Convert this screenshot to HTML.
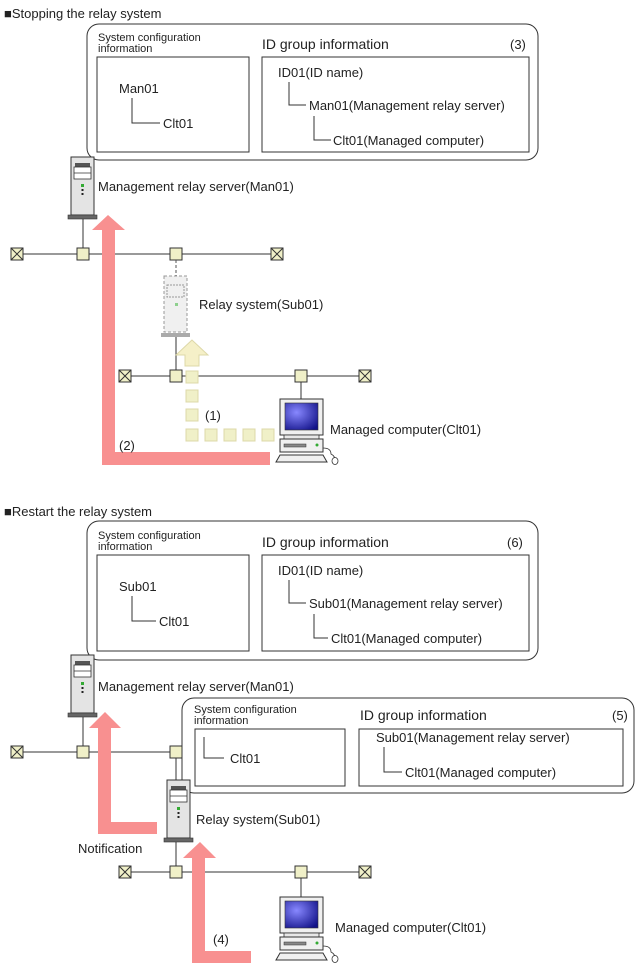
<!DOCTYPE html>
<html><head><meta charset="utf-8"><style>
html,body{margin:0;padding:0;background:#fff}
svg{display:block}
text{font-family:"Liberation Sans",sans-serif;fill:#222}
</style></head><body>
<svg width="636" height="968" viewBox="0 0 636 968" xmlns="http://www.w3.org/2000/svg">
<defs>
<g id="srv">
<rect x="0" y="0" width="23" height="58" fill="#e4e4e4" stroke="#333" stroke-width="1"/>
<rect x="4" y="6" width="15" height="4" fill="#555"/>
<rect x="3" y="10" width="17" height="12" fill="#fff" stroke="#333" stroke-width="0.8"/>
<line x1="3" y1="16" x2="20" y2="16" stroke="#333" stroke-width="0.8"/>
<rect x="10" y="27" width="3" height="3" fill="#3a3"/>
<rect x="10.5" y="32" width="2" height="2" fill="#222"/>
<rect x="10.5" y="36" width="2" height="2" fill="#222"/>
<rect x="-3" y="58" width="29" height="4" fill="#666" stroke="#333" stroke-width="0.6"/>
</g>
<radialGradient id="scr" cx="0.35" cy="0.35" r="0.8"><stop offset="0" stop-color="#8888ff"/><stop offset="1" stop-color="#111188"/></radialGradient>
<g id="pc">
<rect x="0" y="0" width="43" height="36" fill="#f0f0f0" stroke="#333"/>
<rect x="5" y="4" width="33" height="27" fill="url(#scr)" stroke="#333" stroke-width="0.6"/>
<rect x="4" y="36" width="35" height="4" fill="#e8e8e8" stroke="#333" stroke-width="0.8"/>
<rect x="0" y="40" width="43" height="13" fill="#f0f0f0" stroke="#333"/>
<rect x="4" y="45" width="22" height="3" fill="#888" stroke="#333" stroke-width="0.5"/>
<circle cx="37" cy="46" r="1.5" fill="#3a3"/>
<line x1="0" y1="53" x2="43" y2="53" stroke="#333"/>
<polygon points="-4,63 47,63 43,56 0,56" fill="#f0f0f0" stroke="#333"/>
<path d="M43,49 q8,0 8,6 q4,2 4,6" fill="none" stroke="#333" stroke-width="0.8"/>
<ellipse cx="55" cy="62" rx="3" ry="3.5" fill="#fff" stroke="#333" stroke-width="0.8"/>
</g>
<g id="hub"><rect x="-6" y="-6" width="12" height="12" fill="#f0f0c8" stroke="#333"/></g>
<g id="term"><rect x="-6" y="-6" width="12" height="12" fill="#f0f0c8" stroke="#333"/><path d="M-6,-6L6,6M6,-6L-6,6" stroke="#333"/></g>
</defs>

<!-- ===== TOP ===== -->
<text x="4" y="18" font-size="13">■Stopping the relay system</text>
<rect x="87" y="24" width="451" height="136" rx="12" fill="none" stroke="#333"/>
<text x="98" y="41" font-size="11">System configuration</text>
<text x="98" y="52" font-size="11">information</text>
<rect x="97" y="57" width="152" height="95" fill="none" stroke="#333"/>
<text x="119" y="93" font-size="13">Man01</text>
<path d="M132,98V123H160" fill="none" stroke="#333"/>
<text x="163" y="128" font-size="13">Clt01</text>
<text x="262" y="49" font-size="14">ID group information</text>
<text x="510" y="49" font-size="13">(3)</text>
<rect x="262" y="57" width="267" height="95" fill="none" stroke="#333"/>
<text x="278" y="77" font-size="13">ID01(ID name)</text>
<path d="M289,82V105H306" fill="none" stroke="#333"/>
<text x="309" y="110" font-size="13">Man01(Management relay server)</text>
<path d="M314,116V140H331" fill="none" stroke="#333"/>
<text x="333" y="145" font-size="13">Clt01(Managed computer)</text>

<line x1="83" y1="219" x2="83" y2="254" stroke="#333"/>
<use href="#srv" x="71" y="157"/>
<text x="98" y="191" font-size="13">Management relay server(Man01)</text>

<line x1="17" y1="254" x2="277" y2="254" stroke="#333"/>
<use href="#term" x="17" y="254"/><use href="#hub" x="83" y="254"/><use href="#hub" x="176" y="254"/><use href="#term" x="277" y="254"/>
<line x1="176" y1="260" x2="176" y2="276" stroke="#555" stroke-dasharray="3,2"/>
<g opacity="0.55"><rect x="164" y="276" width="23" height="56" fill="#e4e4e4" stroke="#444" stroke-dasharray="3,2"/>
<rect x="167" y="285" width="17" height="12" fill="#e4e4e4" stroke="#444" stroke-dasharray="2,1"/>
<rect x="175" y="303" width="3" height="3" fill="#3a3"/>
<rect x="161" y="333" width="29" height="4" fill="#666"/></g>
<text x="199" y="309" font-size="13">Relay system(Sub01)</text>
<line x1="176" y1="337" x2="176" y2="376" stroke="#333"/>
<line x1="125" y1="376" x2="365" y2="376" stroke="#333"/>
<use href="#term" x="125" y="376"/><use href="#hub" x="176" y="376"/><use href="#hub" x="301" y="376"/><use href="#term" x="365" y="376"/>
<line x1="301" y1="382" x2="301" y2="399" stroke="#333"/>
<polygon points="192,340 176,355 185,355 185,366 199,366 199,355 208,355" fill="#f5f0c8" stroke="#ddd8a8"/>
<g fill="#f0f0c8" stroke="#ddd8a8">
<rect x="186" y="371" width="12" height="12"/><rect x="186" y="390" width="12" height="12"/><rect x="186" y="409" width="12" height="12"/>
<rect x="186" y="429" width="12" height="12"/><rect x="205" y="429" width="12" height="12"/><rect x="224" y="429" width="12" height="12"/><rect x="243" y="429" width="12" height="12"/><rect x="262" y="429" width="12" height="12"/></g>
<text x="205" y="420" font-size="13">(1)</text>
<use href="#pc" x="280" y="399"/>
<text x="330" y="434" font-size="13">Managed computer(Clt01)</text>
<polygon points="108,215 92,230 102,230 102,465 270,465 270,452 115,452 115,230 125,230" fill="#f89090"/>
<text x="119" y="450" font-size="13">(2)</text>

<!-- ===== BOTTOM ===== -->
<text x="4" y="516" font-size="13">■Restart the relay system</text>
<rect x="87" y="521" width="451" height="139" rx="12" fill="none" stroke="#333"/>
<text x="98" y="539" font-size="11">System configuration</text>
<text x="98" y="550" font-size="11">information</text>
<rect x="97" y="555" width="152" height="96" fill="none" stroke="#333"/>
<text x="119" y="591" font-size="13">Sub01</text>
<path d="M132,596V621H156" fill="none" stroke="#333"/>
<text x="159" y="626" font-size="13">Clt01</text>
<text x="262" y="547" font-size="14">ID group information</text>
<text x="507" y="547" font-size="13">(6)</text>
<rect x="262" y="555" width="267" height="96" fill="none" stroke="#333"/>
<text x="278" y="575" font-size="13">ID01(ID name)</text>
<path d="M289,580V603H306" fill="none" stroke="#333"/>
<text x="309" y="608" font-size="13">Sub01(Management relay server)</text>
<path d="M314,614V638H328" fill="none" stroke="#333"/>
<text x="331" y="643" font-size="13">Clt01(Managed computer)</text>

<line x1="83" y1="717" x2="83" y2="752" stroke="#333"/>
<use href="#srv" x="71" y="655"/>
<text x="98" y="691" font-size="13">Management relay server(Man01)</text>

<rect x="182" y="698" width="452" height="95" rx="12" fill="#fff" stroke="#333"/>
<text x="194" y="713" font-size="11">System configuration</text>
<text x="194" y="724" font-size="11">information</text>
<rect x="195" y="729" width="150" height="57" fill="none" stroke="#333"/>
<path d="M204,737V758H224" fill="none" stroke="#333"/>
<text x="230" y="763" font-size="13">Clt01</text>
<text x="360" y="720" font-size="14">ID group information</text>
<text x="612" y="720" font-size="13">(5)</text>
<rect x="359" y="729" width="264" height="57" fill="none" stroke="#333"/>
<text x="376" y="742" font-size="13">Sub01(Management relay server)</text>
<path d="M384,747V772H402" fill="none" stroke="#333"/>
<text x="405" y="777" font-size="13">Clt01(Managed computer)</text>

<line x1="17" y1="752" x2="176" y2="752" stroke="#333"/>
<use href="#term" x="17" y="752"/><use href="#hub" x="83" y="752"/><use href="#hub" x="176" y="752"/>
<line x1="176" y1="758" x2="176" y2="781" stroke="#333"/>
<use href="#srv" x="167" y="780"/>
<text x="196" y="824" font-size="13">Relay system(Sub01)</text>
<line x1="176" y1="842" x2="176" y2="872" stroke="#333"/>
<line x1="125" y1="872" x2="365" y2="872" stroke="#333"/>
<use href="#term" x="125" y="872"/><use href="#hub" x="176" y="872"/><use href="#hub" x="301" y="872"/><use href="#term" x="365" y="872"/>
<line x1="301" y1="878" x2="301" y2="897" stroke="#333"/>
<use href="#pc" x="280" y="897"/>
<text x="335" y="932" font-size="13">Managed computer(Clt01)</text>
<polygon points="105,712 89,728 98,728 98,834 157,834 157,822 111,822 111,728 121,728" fill="#f89090"/>
<text x="78" y="853" font-size="13">Notification</text>
<polygon points="200,842 183,858 192,858 192,963 251,963 251,951 205,951 205,858 216,858" fill="#f89090"/>
<text x="213" y="944" font-size="13">(4)</text>
</svg>
</body></html>
